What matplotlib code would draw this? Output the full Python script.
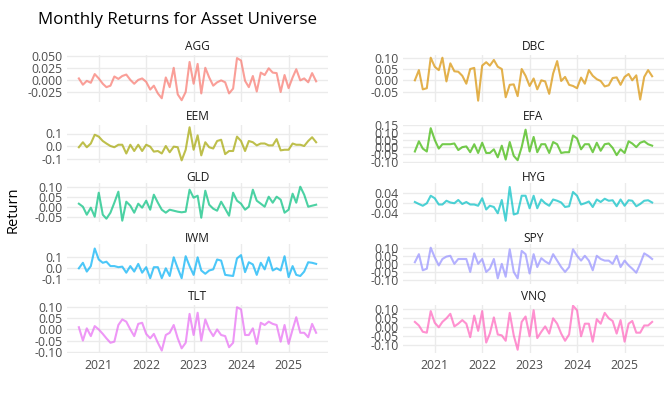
import matplotlib
matplotlib.use("Agg")
import matplotlib.pyplot as plt
import matplotlib.dates as mdates
import numpy as np
import pandas as pd

plt.rcParams['font.family'] = ['Open Sans', 'DejaVu Sans']

# monthly dates, Aug 2020 .. Aug 2025
dates = pd.date_range("2020-08-01", "2025-08-01", freq="MS")

assets = ["AGG", "DBC", "EEM", "EFA", "GLD", "HYG", "IWM", "SPY", "TLT", "VNQ"]

agg = [0.003, -0.010, -0.002, -0.006, 0.012, 0.003, -0.008, -0.015, -0.012, 0.007,
       0.002, 0.008, 0.011, 0.000, -0.008, 0.000, 0.003, -0.004, -0.020, -0.012,
       -0.028, -0.038, 0.005, -0.015, 0.025, -0.030, -0.042, -0.025, 0.037, -0.008,
       0.033, -0.028, 0.025, 0.005, -0.012, -0.005, -0.001, -0.005, -0.028, -0.018,
       0.045, 0.040, -0.002, -0.015, 0.008, -0.024, 0.015, 0.010, 0.024, 0.015,
       0.014, -0.025, 0.010, -0.017, 0.005, 0.022, -0.001, 0.003, -0.005, 0.014,
       -0.003]
dbc = [0.000, 0.045, -0.040, -0.035, 0.100, 0.060, 0.045, 0.100, -0.005, 0.075,
       0.040, 0.038, 0.020, -0.015, 0.050, 0.055, -0.090, 0.065, 0.080, 0.065,
       0.090, 0.060, 0.050, -0.075, -0.020, -0.018, -0.070, 0.050, 0.020, -0.025,
       0.008, -0.040, 0.000, -0.005, -0.060, 0.030, 0.085, -0.003, 0.015, -0.020,
       -0.025, -0.035, 0.012, -0.015, 0.045, 0.020, 0.005, -0.003, -0.027, -0.022,
       0.010, 0.013, -0.020, 0.015, 0.028, 0.000, 0.022, -0.085, 0.015, 0.045,
       0.018]
eem = [-0.010, 0.030, -0.010, 0.020, 0.090, 0.075, 0.040, 0.020, 0.000, -0.010,
       0.010, 0.010, -0.060, 0.010, -0.040, 0.010, -0.040, 0.010, -0.005, -0.045,
       -0.040, -0.060, 0.000, -0.050, -0.005, -0.010, -0.115, -0.030, 0.150, -0.030,
       0.085, -0.075, 0.030, -0.010, -0.020, 0.040, 0.050, -0.065, -0.040, -0.040,
       0.075, 0.040, -0.040, 0.040, 0.030, 0.005, 0.020, 0.020, 0.005, 0.005,
       0.055, -0.035, -0.030, -0.030, 0.020, 0.010, 0.010, 0.000, 0.040, 0.070,
       0.030]
efa = [-0.030, 0.040, -0.010, -0.030, 0.130, 0.050, -0.010, 0.020, 0.020, 0.020,
       0.025, -0.020, 0.000, 0.005, -0.035, 0.020, -0.040, 0.030, -0.040, -0.040,
       -0.015, -0.070, 0.010, -0.085, 0.035, -0.060, -0.090, 0.000, 0.120, -0.030,
       0.070, -0.035, 0.020, 0.020, -0.040, 0.035, 0.020, -0.040, -0.035, -0.035,
       0.080, 0.060, -0.015, 0.020, 0.020, -0.035, 0.030, -0.025, 0.020, 0.025,
       -0.005, -0.055, -0.015, -0.040, 0.040, 0.025, 0.000, 0.030, 0.040, 0.020,
       0.010]
gld = [0.015, 0.000, -0.040, -0.005, -0.050, 0.070, -0.040, -0.060, -0.030, 0.020,
       0.075, -0.070, 0.025, 0.005, -0.030, 0.015, -0.005, 0.030, -0.015, 0.060,
       0.020, -0.015, -0.030, -0.015, -0.020, -0.025, -0.028, -0.025, 0.085, 0.045,
       0.055, -0.055, 0.080, 0.010, -0.010, -0.020, 0.025, -0.010, -0.045, 0.070,
       0.030, 0.015, -0.015, 0.000, 0.085, 0.030, 0.015, 0.000, 0.050, 0.020,
       0.050, 0.035, -0.030, -0.015, 0.065, 0.020, 0.100, 0.060, 0.000, 0.005,
       0.010]
hyg = [0.005, -0.003, -0.010, 0.000, 0.030, 0.020, -0.005, -0.005, 0.010, 0.003,
       0.000, 0.013, -0.003, 0.005, -0.005, -0.005, -0.010, 0.020, -0.025, -0.010,
       -0.015, -0.040, 0.013, -0.070, 0.065, -0.045, -0.040, 0.030, 0.030, -0.020,
       0.030, -0.020, 0.015, 0.000, -0.010, 0.015, 0.010, 0.003, -0.015, -0.012,
       0.045, 0.030, -0.005, 0.000, 0.007, -0.015, 0.015, 0.005, 0.018, 0.010,
       0.012, -0.012, 0.015, -0.010, 0.012, 0.010, -0.012, -0.003, 0.010, 0.012,
       0.003]
iwm = [0.000, 0.050, -0.030, 0.020, 0.180, 0.080, 0.050, 0.060, 0.020, 0.020,
       0.010, 0.015, -0.040, 0.020, -0.030, 0.040, -0.040, 0.010, -0.090, 0.010,
       0.010, -0.090, 0.000, -0.070, 0.100, 0.000, -0.090, 0.110, 0.020, -0.060,
       0.100, -0.020, -0.050, -0.020, -0.010, 0.080, 0.070, -0.060, -0.065, -0.070,
       0.090, 0.120, -0.035, 0.055, 0.035, -0.060, 0.050, -0.010, 0.100, -0.020,
       0.000, -0.020, 0.110, -0.080, 0.020, -0.060, -0.070, -0.030, 0.055, 0.050,
       0.040]
spy = [0.010, 0.060, -0.040, -0.030, 0.100, 0.040, -0.010, 0.030, 0.045, 0.050,
       0.000, 0.030, 0.030, 0.030, -0.050, 0.065, 0.000, 0.030, -0.050, -0.030,
       0.030, -0.090, 0.000, -0.080, 0.090, -0.050, -0.090, 0.080, 0.060, -0.060,
       0.060, -0.020, 0.035, 0.015, 0.000, 0.060, 0.020, -0.020, -0.050, -0.020,
       0.090, 0.050, 0.020, 0.050, 0.020, -0.040, 0.050, 0.030, 0.020, 0.020,
       0.000, 0.050, -0.020, 0.020, -0.010, -0.030, -0.055, 0.000, 0.065, 0.050,
       0.030]
tlt = [0.010, -0.050, 0.005, -0.030, 0.015, 0.000, -0.020, -0.040, -0.060, -0.055,
       0.020, 0.045, 0.035, 0.000, -0.030, 0.025, 0.030, -0.020, -0.040, -0.020,
       -0.060, -0.095, -0.025, -0.015, 0.020, -0.040, -0.085, -0.060, 0.070, -0.025,
       0.075, -0.050, 0.045, 0.000, -0.030, 0.000, -0.025, -0.030, -0.080, -0.060,
       0.100, 0.090, -0.025, -0.025, 0.005, -0.065, 0.030, 0.020, 0.035, 0.025,
       0.020, -0.055, 0.020, -0.065, 0.000, 0.055, -0.015, -0.015, -0.035, 0.025,
       -0.015]
vnq = [0.030, 0.010, -0.025, -0.030, 0.090, 0.025, 0.000, 0.030, 0.050, 0.075,
       0.005, 0.020, 0.040, 0.020, -0.055, 0.065, -0.020, 0.090, -0.085, -0.035,
       0.055, -0.040, -0.045, -0.075, 0.080, -0.045, -0.125, 0.030, 0.060, -0.050,
       0.095, -0.060, -0.025, 0.005, -0.035, 0.050, 0.020, -0.035, -0.075, -0.040,
       0.120, 0.095, -0.050, 0.020, 0.020, -0.080, 0.045, 0.020, 0.080, 0.050,
       0.035, -0.035, 0.040, -0.080, 0.020, 0.035, -0.030, -0.030, 0.010, 0.010,
       0.030]

returns = {"AGG": agg, "DBC": dbc, "EEM": eem, "EFA": efa, "GLD": gld,
           "HYG": hyg, "IWM": iwm, "SPY": spy, "TLT": tlt, "VNQ": vnq}

colors = ["#F8766D", "#D89000", "#A3A500", "#39B600", "#00BF7D",
          "#00BFC4", "#00B0F6", "#9590FF", "#E76BF3", "#FF62BC"]

# y ticks / ranges per panel (free y scales)
yticks = {
    "AGG": ([-0.025, 0, 0.025, 0.05], "%.3f", (-0.0457, 0.0514)),
    "DBC": ([-0.05, 0, 0.05, 0.10], "%.2f", (-0.096, 0.112)),
    "EEM": ([-0.1, 0, 0.1], "%.1f", (-0.136, 0.168)),
    "EFA": ([-0.10, -0.05, 0, 0.05, 0.10, 0.15], "%.2f", (-0.109, 0.152)),
    "GLD": ([-0.05, 0, 0.05, 0.10], "%.2f", (-0.0765, 0.1185)),
    "HYG": ([-0.04, 0, 0.04], "%.2f", (-0.075, 0.081)),
    "IWM": ([-0.1, 0, 0.1], "%.1f", (-0.143, 0.221)),
    "SPY": ([-0.10, -0.05, 0, 0.05, 0.10], "%.2f", (-0.125, 0.123)),
    "TLT": ([-0.10, -0.05, 0, 0.05, 0.10], "%.2f", (-0.106, 0.110)),
    "VNQ": ([-0.10, -0.05, 0, 0.05, 0.10], "%.2f", (-0.143, 0.124)),
}

W, H = 672, 393
fig = plt.figure(figsize=(W / 100, H / 100), dpi=100)

cols = [(67, 328), (403, 664)]
rows = [(55, 102), (125, 163), (183, 222), (244, 284), (305, 353)]
strip_y = [47, 117, 178, 238, 297]

span = dates[-1] - dates[0]
xlim = (dates[0] - span * 0.05, dates[-1] + span * 0.05)

for k, name in enumerate(assets):
    r, c = divmod(k, 2)
    x0, x1 = cols[c]
    y0, y1 = rows[r]
    ax = fig.add_axes([x0 / W, 1 - y1 / H, (x1 - x0) / W, (y1 - y0) / H])
    ax.plot(dates, returns[name], color=colors[k], alpha=0.7, lw=1.5)
    ticks, fmt, ylim = yticks[name]
    ax.set_yticks(ticks)
    ax.set_yticklabels([fmt % t for t in ticks])
    ax.set_ylim(*ylim)
    ax.set_xlim(*xlim)
    ax.xaxis.set_major_locator(mdates.YearLocator())
    ax.xaxis.set_major_formatter(mdates.DateFormatter("%Y"))
    ax.grid(True, color="#ebebeb", lw=1)
    ax.set_axisbelow(True)
    for s in ax.spines.values():
        s.set_visible(False)
    ax.tick_params(length=0, labelsize=8.8, colors="#4d4d4d", pad=3)
    ax.tick_params(axis="x", pad=4)
    if r < 4:
        ax.tick_params(labelbottom=False)
    fig.text((x0 + x1) / 2 / W, 1 - strip_y[r] / H, name, ha="center", va="center",
             fontsize=8.6, color="#1a1a1a")

fig.text(38 / W, 1 - 20 / H, "Monthly Returns for Asset Universe", ha="left",
         va="center", fontsize=12.2, color="black")
fig.text(13 / W, 1 - 210 / H, "Return", rotation=90, ha="center", va="center",
         fontsize=10.5, color="black")

fig.savefig("out.png", dpi=100, facecolor="white")
